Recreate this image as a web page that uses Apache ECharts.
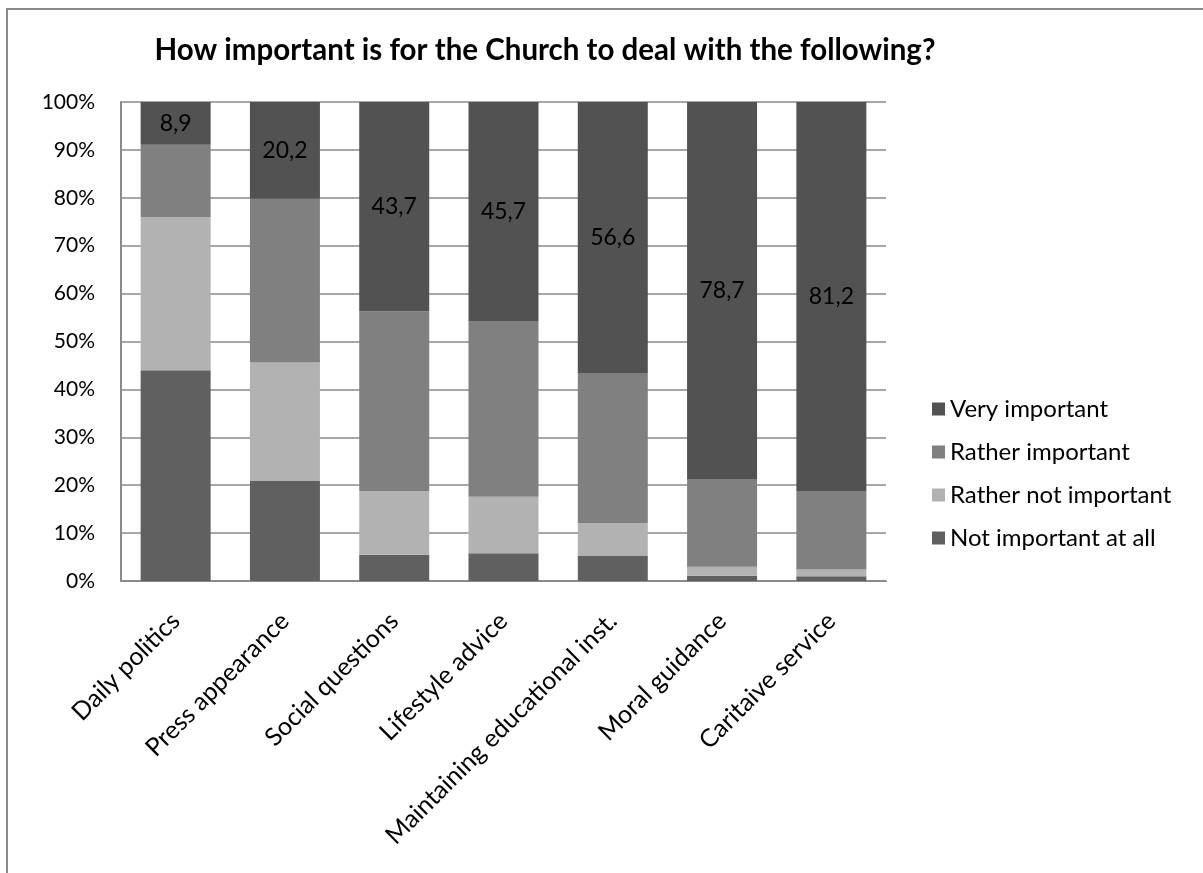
<!DOCTYPE html>
<html>
<head>
<meta charset="utf-8">
<script src="https://cdn.jsdelivr.net/npm/echarts@6/dist/echarts.min.js"></script>
<style>
html,body{margin:0;padding:0;background:#fff;}
#chart{width:1203px;height:873px;}
</style>
</head>
<body>
<div id="chart"></div>
<script>
const categories = ["Daily politics", "Press appearance", "Social questions", "Lifestyle advice", "Maintaining educational inst.", "Moral guidance", "Caritaive service"];
const notImportantAtAll = [44.0, 21.0, 5.5, 5.8, 5.3, 1.1, 1.0];
const ratherNotImportant = [32.0, 24.6, 13.3, 11.8, 6.8, 1.9, 1.4];
const ratherImportant = [15.1, 34.2, 37.5, 36.7, 31.3, 18.3, 16.4];
const veryImportant = [8.9, 20.2, 43.7, 45.7, 56.6, 78.7, 81.2];
const seriesNames = ["Not important at all", "Rather not important", "Rather important", "Very important"];
const legendOrder = ["Very important", "Rather important", "Rather not important", "Not important at all"];

const FONT = 'Lato, "Open Sans", sans-serif';
const colors = {
  "Not important at all": "#606060",
  "Rather not important": "#b2b2b2",
  "Rather important": "#808080",
  "Very important": "#525252"
};
const dataBy = {
  "Not important at all": notImportantAtAll,
  "Rather not important": ratherNotImportant,
  "Rather important": ratherImportant,
  "Very important": veryImportant
};

const chart = echarts.init(document.getElementById('chart'), null, {renderer: 'canvas'});
const option = {
  backgroundColor: '#fff',
  animation: false,
  title: {
    text: 'How important is for the Church to deal with the following?',
    left: 540, top: 30, textAlign: 'center',
    textStyle: {fontFamily: FONT, fontWeight: 'bold', fontSize: 29.5, color: '#000'}
  },
  graphic: [{
    type: 'polyline',
    shape: {points: [[7, 873], [7, 9], [1203, 9]]},
    style: {stroke: '#8a8a8a', lineWidth: 2, fill: null},
    silent: true
  }],
  legend: {
    orient: 'vertical',
    left: 927, top: 392,
    itemWidth: 13, itemHeight: 13, itemGap: 19,
    icon: 'rect',
    data: legendOrder,
    textStyle: {fontFamily: FONT, fontSize: 24, color: '#000'}
  },
  grid: {left: 121, right: 317, top: 102, bottom: 292, containLabel: false},
  xAxis: {
    type: 'category',
    data: categories,
    axisLine: {show: true, lineStyle: {color: '#8a8a8a', width: 2}},
    axisTick: {show: false},
    axisLabel: {interval: 0, rotate: 45, fontFamily: FONT, fontSize: 25, color: '#000', margin: 36}
  },
  yAxis: {
    type: 'value', min: 0, max: 100, interval: 10,
    axisLine: {show: true, lineStyle: {color: '#8a8a8a', width: 2}},
    axisTick: {show: false},
    splitLine: {show: true, lineStyle: {color: '#8a8a8a', width: 1.5}},
    axisLabel: {formatter: '{value}%', fontFamily: FONT, fontSize: 21, color: '#000', margin: 26}
  },
  series: seriesNames.map(name => ({
    name: name,
    type: 'bar',
    stack: 'total',
    barWidth: 70,
    data: dataBy[name],
    itemStyle: {color: colors[name]},
    label: name === 'Very important' ? {
      show: true, position: 'inside', color: '#000',
      fontFamily: FONT, fontSize: 23,
      formatter: p => String(p.value).replace('.', ',')
    } : {show: false}
  }))
};
chart.setOption(option);
</script>
</body>
</html>
